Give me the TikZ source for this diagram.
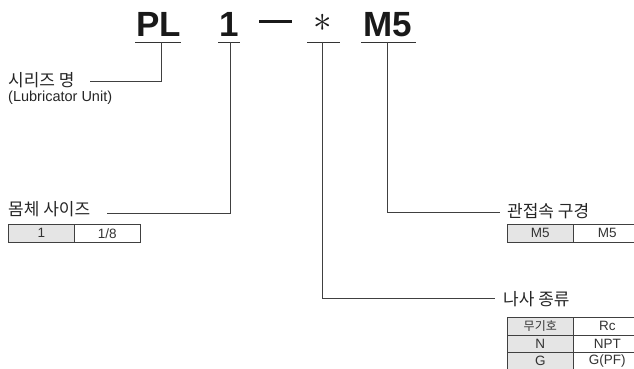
\documentclass[tikz,border=0pt]{standalone}
\usepackage{fontspec}
\setmainfont{Liberation Sans}
\newfontfamily\kr{Noto Sans CJK KR}
\begin{document}
\begin{tikzpicture}[x=1pt,y=-1pt,
  title/.style={font=\fontsize{35}{35}\selectfont\bfseries, inner sep=0pt, anchor=base, text=black!90},
  lbl/.style={font=\kr\fontsize{17}{19}\selectfont, inner sep=0pt, anchor=west, text=black!85},
  sub/.style={font=\fontsize{14.5}{16}\selectfont, inner sep=0pt, anchor=west, text=black!85},
  conn/.style={draw=black!75, line width=0.8pt},
  uline/.style={draw=black!80, line width=0.9pt},
  cell/.style={draw=black!75, line width=0.6pt, inner sep=0pt, anchor=north west, text=black!80, font=\fontsize{13.5}{14}\selectfont},
  gcell/.style={cell, fill=black!10},
  krcell/.style={font=\kr\fontsize{12}{13}\selectfont}
]
\useasboundingbox (0,0) rectangle (634,369);

% title
\node[title] (PL) at (159,37) {PL};
\node[title] (one) at (229,37) {1};
\node[title] (M5) at (388,37) {M5};
\node[inner sep=0pt, scale=3.7, black!90] (ast) at (323,23) {$\ast$};
\draw[line width=3pt, black!90] (259,22) -- (292,22);

\draw[uline] (135,42) -- (181,42);
\draw[uline] (218,42) -- (240,42);
\draw[uline] (307,42) -- (340,42);
\draw[uline] (361,42) -- (416,42);
\coordinate (tPL) at (161,42);
\coordinate (tone) at (230,42);
\coordinate (tast) at (322,42);
\coordinate (tM5) at (387,42);

% series
\node[lbl] (ser) at (8,80) {시리즈 명};
\node[sub] (serE) at (8,98) {(Lubricator Unit)};
\coordinate (serL) at (90,81);
\draw[conn] (serL) -| (tPL);

% body size
\node[lbl] (body) at (8,209) {몸체 사이즈};
\coordinate (bodyL) at (107,213);
\draw[conn] (bodyL) -| (tone);
\node[gcell, minimum width=66pt, minimum height=18pt] (b1) at (8,224) {1};
\node[cell, minimum width=66pt, minimum height=18pt] (b2) at (74,224) {1/8};

% port size
\node[lbl] (port) at (507,211) {관접속 구경};
\coordinate (portL) at (500,212);
\draw[conn] (tM5) |- (portL);
\node[gcell, minimum width=66pt, minimum height=18pt] (p1) at (507,224) {M5};
\node[cell, minimum width=68pt, minimum height=18pt] (p2) at (573,224) {M5};

% thread type
\node[lbl] (thr) at (503,299) {나사 종류};
\coordinate (thrL) at (495,298);
\draw[conn] (tast) |- (thrL);
\node[gcell, krcell, minimum width=66pt, minimum height=17.5pt] (t11) at (507,317) {무기호};
\node[cell, minimum width=68pt, minimum height=17.5pt] (t12) at (573,317) {Rc};
\node[gcell, minimum width=66pt, minimum height=17.5pt] (t21) at (507,334.5) {N};
\node[cell, minimum width=68pt, minimum height=17.5pt] (t22) at (573,334.5) {NPT};
\node[gcell, minimum width=66pt, minimum height=17.5pt] (t31) at (507,352) {G};
\node[cell, minimum width=68pt, minimum height=17.5pt] (t32) at (573,352) {G(PF)};
\end{tikzpicture}
\end{document}
